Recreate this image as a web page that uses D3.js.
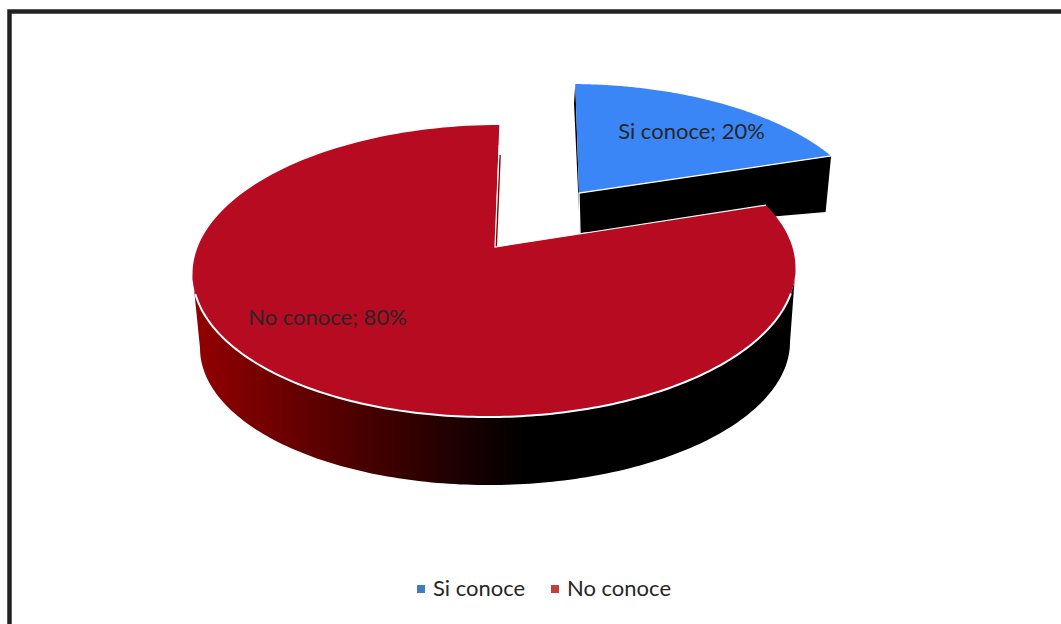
<!DOCTYPE html>
<html><head><meta charset="utf-8">
<script src="https://cdn.jsdelivr.net/npm/d3@7/dist/d3.min.js"></script>
<style>html,body{margin:0;padding:0;background:#fff}svg{display:block}text{font-family:Lato,"Open Sans",sans-serif;fill:#262626}</style>
</head><body><svg id="c" width="1061" height="624"></svg>
<script>
const categories = ["Si conoce", "No conoce"];
const values = [20, 80];
const topColors = ["#3B86F6", "#B70B22"];
const legendColors = ["#3F7CC4", "#C0403C"];

const svg = d3.select("#c");
const pie = d3.pie().sort(null).startAngle(0).endAngle(2 * Math.PI)(values);
const RAD = Math.PI / 180, ROT = 1 * RAD;
// each disc: ellipse centre/radii, slight tilt, perspective factor k and projected apex
const redTop = {cx: 494, cy: 271, rx: 301.5, ry: 146, ax: 495, ay: 247, tilt: -0.01, k: 0.85};
const redBot = {cx: 495, cy: 345, rx: 295, ry: 140, tilt: -0.01, k: 0.85};
const bluTop = {cx: 570, cy: 230, rx: 303, ry: 146, ax: 579, ay: 193, tilt: 0, k: 0.771};
const bluBot = {cx: 574, cy: 283, rx: 292, ry: 140, ax: 580, ay: 233, tilt: 0, k: 0.771};

const warp = (g, a) => 2 * Math.atan2(g.k * Math.sin(a / 2), Math.cos(a / 2)) + ROT;
const onT = (g, t) => { const x = g.cx + g.rx * Math.sin(t);
  return [x, g.cy - g.ry * Math.cos(t) + g.tilt * (x - g.cx)]; };
const arcPts = (g, a0, a1, n = 160) => d3.range(n + 1).map(i => onT(g, warp(g, a0 + (a1 - a0) * i / n)));
const tPts = (g, t0, t1, n = 160) => d3.range(n + 1).map(i => onT(g, t0 + (t1 - t0) * i / n));
const line = d3.line();

// frame
svg.append("path").attr("d", line([[9.5, 624], [9.5, 11.5], [1061, 11.5]]))
  .attr("fill", "none").attr("stroke", "#222").attr("stroke-width", 4.5);

const defs = svg.append("defs");
const grad = defs.append("linearGradient").attr("id", "wall").attr("gradientUnits", "userSpaceOnUse")
  .attr("x1", 205).attr("x2", 525).attr("y1", 0).attr("y2", 0);
grad.append("stop").attr("offset", 0).attr("stop-color", "#8F0000");
grad.append("stop").attr("offset", 1).attr("stop-color", "#000");

const [blue, red] = pie;

// blue slice walls
svg.append("path").attr("d", line([
    onT(bluTop, warp(bluTop, blue.endAngle)),
    onT(bluBot, warp(bluBot, blue.endAngle)),
    [bluBot.ax, bluBot.ay], [bluTop.ax - 5, bluTop.ay - 90], onT(bluTop, warp(bluTop, blue.startAngle)), [bluTop.ax, bluTop.ay]
  ]) + "Z").attr("fill", "#000");
// blue top
svg.append("path").attr("d", line([[bluTop.ax, bluTop.ay], ...arcPts(bluTop, blue.startAngle, blue.endAngle)]) + "Z")
  .attr("fill", topColors[0]);
svg.append("path").attr("d", line([onT(bluTop, warp(bluTop, blue.endAngle)), [bluTop.ax, bluTop.ay], [bluBot.ax, bluBot.ay]]))
  .attr("fill", "none").attr("stroke", "#fff").attr("stroke-width", 1.3);

// red outer wall
svg.append("path").attr("d", line([...tPts(redTop, 90 * RAD, 270 * RAD), ...tPts(redBot, 270 * RAD, 90 * RAD)]) + "Z")
  .attr("fill", "url(#wall)");
// red inner sliver
const redEnd = onT(redTop, warp(redTop, red.endAngle));
svg.append("path").attr("d", line([[redTop.ax, redTop.ay], [redEnd[0], redEnd[1] + 30], [redEnd[0] + 1.6, redEnd[1] + 30], [redTop.ax + 2, redTop.ay]]) + "Z")
  .attr("fill", "#8F0000");
// red top
svg.append("path").attr("d", line([[redTop.ax, redTop.ay], ...arcPts(redTop, red.startAngle, red.endAngle)]) + "Z")
  .attr("fill", topColors[1]);
// white edges
svg.append("path").attr("d", line(tPts(redTop, 100 * RAD, 262 * RAD)))
  .attr("fill", "none").attr("stroke", "#fff").attr("stroke-width", 2);
svg.append("path").attr("d", line([onT(redTop, warp(redTop, red.startAngle)), [redTop.ax, redTop.ay], [redEnd[0], redEnd[1] + 20]]))
  .attr("fill", "none").attr("stroke", "#fff").attr("stroke-width", 1.2);

// data labels
const labelAnchors = [[691.5, 139], [327.5, 325]];
svg.selectAll("text.lbl").data(pie).join("text").attr("class", "lbl")
  .attr("x", (d, i) => labelAnchors[i][0]).attr("y", (d, i) => labelAnchors[i][1])
  .attr("text-anchor", "middle").attr("font-size", 22)
  .text((d, i) => `${categories[i]}; ${d.value}%`);

// legend
const legendX = [417, 551];
const lg = svg.selectAll("g.lg").data(categories).join("g").attr("class", "lg")
  .attr("transform", (d, i) => `translate(${legendX[i]},585)`);
lg.append("rect").attr("width", 8).attr("height", 8).attr("fill", (d, i) => legendColors[i]);
lg.append("text").attr("x", 16).attr("y", 11).attr("font-size", 22).text(d => d);
</script></body></html>
